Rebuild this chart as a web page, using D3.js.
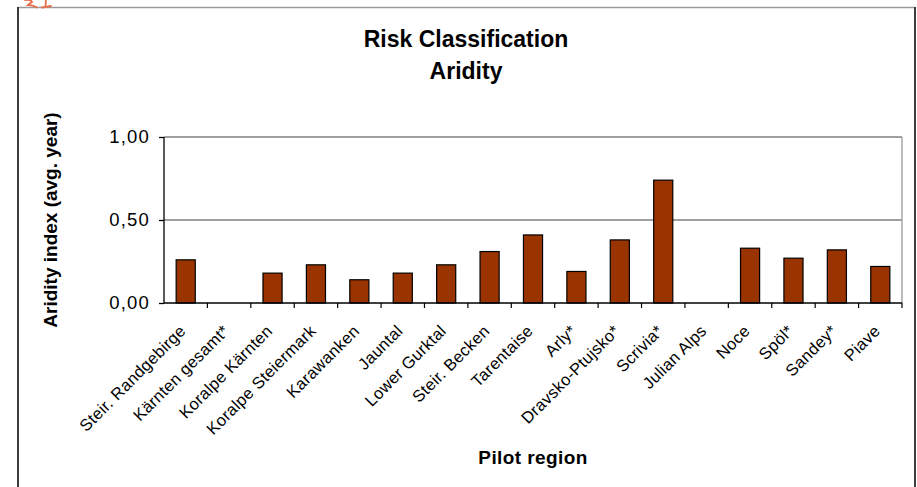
<!DOCTYPE html>
<html>
<head>
<meta charset="utf-8">
<script src="https://cdn.jsdelivr.net/npm/d3@7"></script>
<style>
  html, body { margin: 0; padding: 0; background: #fff; }
  svg { display: block; font-family: "Liberation Sans", Arial, sans-serif; }
</style>
</head>
<body>
<svg id="chart" width="917" height="487"></svg>
<script>
// Pilot regions and their average yearly aridity index (null = no value)
const regions = [
  "Steir. Randgebirge", "Kärnten gesamt*", "Koralpe Kärnten", "Koralpe Steiermark",
  "Karawanken", "Jauntal", "Lower Gurktal", "Steir. Becken", "Tarentaise",
  "Arly*", "Dravsko-Ptujsko*", "Scrivia*", "Julian Alps", "Noce", "Spöl*",
  "Sandey*", "Piave"
];
const aridity = [
  0.26, null, 0.18, 0.23, 0.14, 0.18, 0.23, 0.31, 0.41,
  0.19, 0.38, 0.74, null, 0.33, 0.27, 0.32, 0.22
];
const yTicks = [0, 0.5, 1.0];
const titleLines = ["Risk Classification", "Aridity"];
const yTitle = "Aridity index (avg. year)";
const xTitle = "Pilot region";

const svg = d3.select("#chart");
const plot = { left: 164, right: 902, top: 137, bottom: 303 };

// comma as decimal separator
const fmt = d3.formatLocale({ decimal: ",", thousands: ".", grouping: [3], currency: ["", " €"] }).format(".2f");

// Outer chart frame
svg.append("line").attr("x1", 18).attr("x2", 915).attr("y1", 7.5).attr("y2", 7.5)
  .attr("stroke", "#9a9a9a").attr("stroke-width", 1.5);
svg.append("line").attr("x1", 18).attr("x2", 18).attr("y1", 7).attr("y2", 487)
  .attr("stroke", "#3c3c3c").attr("stroke-width", 2);
svg.append("line").attr("x1", 915).attr("x2", 915).attr("y1", 7).attr("y2", 487)
  .attr("stroke", "#3c3c3c").attr("stroke-width", 2);

// small hand-written mark above the frame
svg.append("path")
  .attr("d", "M25,0 Q31,-1 32,2 Q29,4 28,5 Q33,5 37,7.5 M46,-1 L45.5,7 M42,7.5 L51,6")
  .attr("fill", "none").attr("stroke", "#e8704a").attr("stroke-width", 1.8)
  .attr("stroke-linecap", "round");

// Scales
const xSlot = d3.scaleBand().domain(regions).range([plot.left, plot.right]).padding(0);
const xBar = d3.scaleBand().domain(regions).range([plot.left, plot.right])
  .paddingInner(0.56).paddingOuter(0.28);
const y = d3.scaleLinear().domain([0, 1]).range([plot.bottom, plot.top]);

// Gridlines
svg.append("g").selectAll("line")
  .data(yTicks.filter(t => t > 0))
  .join("line")
  .attr("x1", plot.left).attr("x2", plot.right)
  .attr("y1", d => y(d)).attr("y2", d => y(d))
  .attr("stroke", "#808080").attr("stroke-width", 1.3);

// Right border of the plot area
svg.append("line")
  .attr("x1", plot.right).attr("x2", plot.right)
  .attr("y1", plot.top).attr("y2", plot.bottom)
  .attr("stroke", "#9a9a9a").attr("stroke-width", 1.3);

// Bars
svg.append("g").selectAll("rect")
  .data(regions.map((r, i) => ({ r, v: aridity[i] })).filter(d => d.v != null))
  .join("rect")
  .attr("x", d => xBar(d.r))
  .attr("width", xBar.bandwidth())
  .attr("y", d => y(d.v))
  .attr("height", d => y(0) - y(d.v))
  .attr("fill", "#993300")
  .attr("stroke", "#000")
  .attr("stroke-width", 1.2);

// Y axis
const yAxis = d3.axisLeft(y).tickValues(yTicks).tickFormat(fmt).tickSize(5).tickPadding(9);
const gy = svg.append("g").attr("transform", `translate(${plot.left},0)`).call(yAxis);
gy.select(".domain").attr("stroke", "#000").attr("stroke-width", 1.3).attr("d", `M0,${plot.top}V${plot.bottom}`);
gy.selectAll(".tick line").attr("stroke", "#000").attr("stroke-width", 1.3);
gy.selectAll(".tick text")
  .attr("font-family", "'Liberation Sans', Arial, sans-serif")
  .attr("font-size", 18.5).attr("letter-spacing", 1.2).attr("fill", "#000");

// X axis with ticks between categories
const boundaries = regions.map(r => xSlot(r)).concat([plot.right]);
const xAxisG = svg.append("g");
xAxisG.append("line")
  .attr("x1", plot.left).attr("x2", plot.right)
  .attr("y1", plot.bottom).attr("y2", plot.bottom)
  .attr("stroke", "#000").attr("stroke-width", 1.3);
xAxisG.selectAll("line.tick")
  .data(boundaries.slice(1))
  .join("line").attr("class", "tick")
  .attr("x1", d => d).attr("x2", d => d)
  .attr("y1", plot.bottom).attr("y2", plot.bottom + 5)
  .attr("stroke", "#000").attr("stroke-width", 1.2);

// Category labels, rotated 45°
xAxisG.selectAll("text")
  .data(regions)
  .join("text")
  .attr("transform", d => `translate(${xSlot(d) + xSlot.bandwidth() / 2 + 1},${plot.bottom + 29}) rotate(-45)`)
  .attr("text-anchor", "end")
  .attr("font-size", 16.5)
  .attr("letter-spacing", 0.3)
  .attr("fill", "#000")
  .text(d => d);

// Titles
svg.append("text")
  .attr("x", 466).attr("text-anchor", "middle")
  .attr("font-size", 23).attr("font-weight", "bold").attr("fill", "#000")
  .selectAll("tspan").data(titleLines).join("tspan")
  .attr("x", 466).attr("y", (d, i) => 47 + i * 32)
  .text(d => d);

svg.append("text")
  .attr("transform", `translate(56.5,${(plot.top + plot.bottom) / 2}) rotate(-90)`)
  .attr("text-anchor", "middle")
  .attr("font-size", 19).attr("font-weight", "bold").attr("fill", "#000")
  .text(yTitle);

svg.append("text")
  .attr("x", (plot.left + plot.right) / 2).attr("y", 464)
  .attr("text-anchor", "middle")
  .attr("font-size", 19).attr("font-weight", "bold").attr("letter-spacing", 0.4).attr("fill", "#000")
  .text(xTitle);
</script>
</body>
</html>
